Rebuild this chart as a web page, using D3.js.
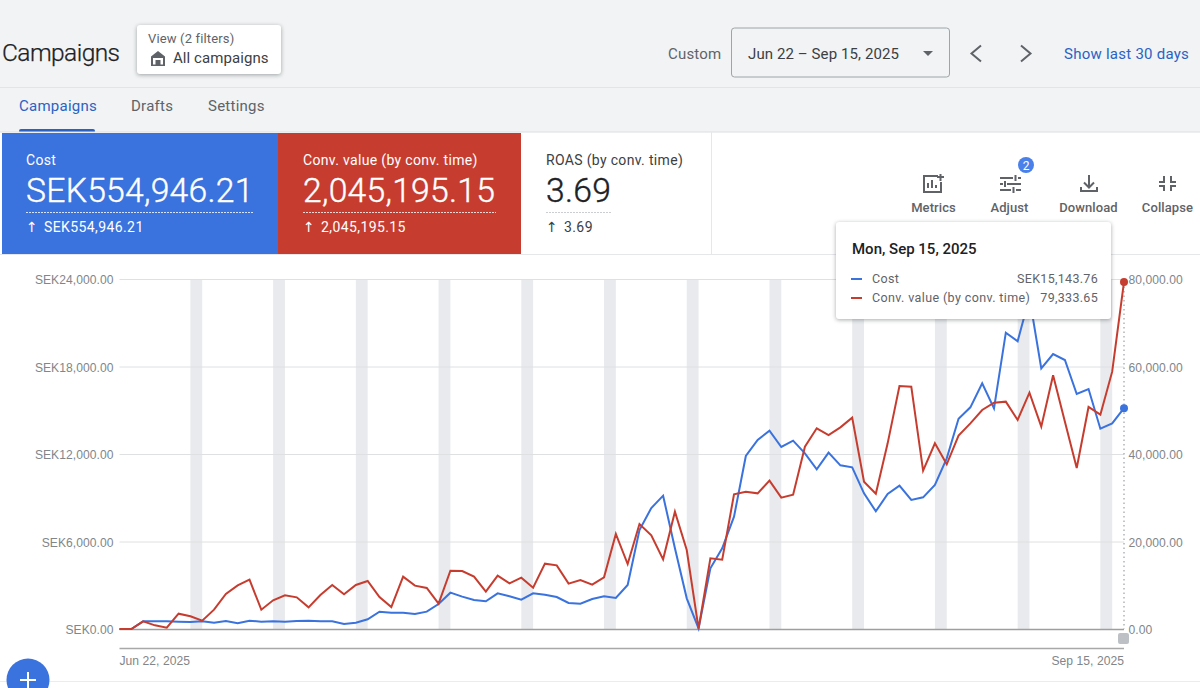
<!DOCTYPE html>
<html>
<head>
<meta charset="utf-8">
<title>Campaigns</title>
<script src="https://cdn.jsdelivr.net/npm/d3@7"></script>
<style>
html, body { margin: 0; padding: 0; background: #f1f3f4; overflow: hidden; }
svg { display: block; font-family: Roboto, "Noto Sans", sans-serif; }
.tick-label text { font-size: 12.1px; letter-spacing: 0.05px; fill: #80868b; }
.card { filter: drop-shadow(0 1px 2px rgba(60, 64, 67, 0.45)); }
</style>
</head>
<body>
<svg id="chart" width="1200" height="688"></svg>
<script>
// daily values
const costValues = [
    0, 0, 526, 526, 526, 503, 480, 526, 434, 549, 389, 571, 503, 526, 503, 549, 571,
    526, 526, 343, 434, 663, 1189, 1120, 1120, 1029, 1189, 1710, 2491, 2217, 1989,
    1897, 2446, 2240, 2011, 2446, 2354, 2194, 1783, 1737, 2057, 2240, 2126, 3017,
    6789, 8297, 9143, 5531, 2103, 40, 4160, 5531, 7703, 11863, 12960, 13600, 12480,
    12914, 12046, 10949, 12091, 11223, 11086, 9303, 8069, 9257, 9829, 8846, 9029,
    9874, 11703, 14423, 15200, 16846, 15131, 20320, 19726, 22743, 17874, 18857,
    18446, 16114, 16457, 13737, 14103, 15143.76
];
const convValues = [
    0, 0, 1752, 838, 305, 3505, 2895, 1905, 4419, 8000, 9981, 11276, 4419, 6552, 7695,
    7238, 4952, 7771, 10057, 7924, 10057, 10971, 7314, 5029, 11962, 9905, 9371, 5790,
    13333, 13257, 11962, 8533, 12190, 10438, 11733, 9448, 14933, 14552, 10362, 11200,
    10133, 11810, 21714, 14857, 24000, 21410, 15924, 26819, 18057, 100, 16152, 15848,
    30781, 31390, 31010, 33905, 30019, 30705, 41676, 45867, 44343, 46095, 48305, 33676,
    30933, 42438, 55543, 55390, 36190, 42438, 37638, 44190, 47010, 50057, 51733, 51962,
    47771, 54019, 46248, 57981, 47390, 36800, 50743, 48990, 58819, 79333.65
];
const costTicks = [0, 6000, 12000, 18000, 24000];
const convTicks = [0, 20000, 40000, 60000, 80000];
const tabLabels = ['Campaigns', 'Drafts', 'Settings'];
const toolLabels = ['Metrics', 'Adjust', 'Download', 'Collapse'];
const tileLabels = ['Cost', 'Conv. value (by conv. time)', 'ROAS (by conv. time)'];
const tileTotals = ['SEK554,946.21', '2,045,195.15', '3.69'];

const startDate = new Date(2025, 5, 22);
const endDate = new Date(2025, 8, 15);
const days = d3.timeDay.range(startDate, d3.timeDay.offset(endDate, 1));

const blue = '#3a72de';
const red = '#c63d2f';
const svg = d3.select('#chart');

const x = d3.scaleTime().domain([startDate, endDate]).range([119.5, 1124]);
const yCost = d3.scaleLinear().domain([0, 24000]).range([629, 279]);
const yConv = d3.scaleLinear().domain([0, 80000]).range([629, 279]);

function label(parent, str, px, py, size, fill, anchor, weight) {
    return parent.append('text')
        .attr('x', px)
        .attr('y', py)
        .attr('font-size', size)
        .attr('fill', fill)
        .attr('text-anchor', anchor || 'start')
        .attr('font-weight', weight || 400)
        .text(str);
}

function drawHeader() {
    const g = svg.append('g');
    label(g, 'Campaigns', 2, 61, 24.5, '#202124', 'start', 300)
        .attr('textLength', 118)
        .attr('stroke', '#202124')
        .attr('stroke-width', 0.25);

    const viewCard = g.append('g');
    viewCard.append('rect')
        .attr('class', 'card')
        .attr('x', 137).attr('y', 25).attr('width', 144).attr('height', 49)
        .attr('rx', 3).attr('fill', '#fff');
    label(viewCard, 'View (2 filters)', 148, 43, 13, '#5f6368').attr('letter-spacing', 0.15);
    label(viewCard, 'All campaigns', 173, 63, 15, '#3c4043').attr('letter-spacing', 0.08);
    viewCard.append('path')
        .attr('d', 'M158 51l-7 5.5V66h14V56.5zM153 58h10v6.500h-2.500V60h-5v4.500H153z')
        .attr('fill', '#5f6368')
        .attr('fill-rule', 'evenodd');

    label(g, 'Custom', 668, 59, 15, '#5f6368').attr('letter-spacing', 0.2);
    g.append('rect')
        .attr('x', 731.5).attr('y', 28).attr('width', 218).attr('height', 49)
        .attr('rx', 3).attr('fill', 'none').attr('stroke', '#a0a4a8');
    label(g, 'Jun 22 – Sep 15, 2025', 748, 59, 15, '#3c4043').attr('letter-spacing', 0.1);
    g.append('path').attr('d', 'M923 51h10l-5 5z').attr('fill', '#5f6368');
    g.append('path')
        .attr('d', 'M981 45.500l-9.500 8 9.500 8M1021 45.500l9.500 8-9.500 8')
        .attr('fill', 'none').attr('stroke', '#5f6368').attr('stroke-width', 2);
    label(g, 'Show last 30 days', 1064, 59, 15, '#2a62c4').attr('letter-spacing', 0.25);

    g.append('line')
        .attr('x1', 0).attr('x2', 1200).attr('y1', 87.500).attr('y2', 87.500)
        .attr('stroke', '#e2e4e6');

    g.selectAll('.tab')
        .data(tabLabels)
        .enter()
        .append('text')
        .attr('class', 'tab')
        .attr('x', function(d, i) { return [19, 131, 208][i]; })
        .attr('y', 111)
        .attr('font-size', 15)
        .attr('letter-spacing', 0.25)
        .attr('fill', function(d, i) { return i === 0 ? '#2a62c4' : '#5f6368'; })
        .text(function(d) { return d; });
    g.append('rect')
        .attr('x', 19).attr('y', 129).attr('width', 76).attr('height', 4)
        .attr('rx', 2).attr('fill', '#2a62c4');
}

function drawTiles() {
    const g = svg.append('g');
    g.append('rect')
        .attr('x', 0).attr('y', 132).attr('width', 1200).attr('height', 556)
        .attr('fill', '#fff');
    g.append('line')
        .attr('x1', 0).attr('x2', 1200).attr('y1', 132).attr('y2', 132)
        .attr('stroke', '#dcdee0');
    g.append('line')
        .attr('x1', 0).attr('x2', 1200).attr('y1', 254.500).attr('y2', 254.500)
        .attr('stroke', '#e6e7e9');
    g.append('line')
        .attr('x1', 711.500).attr('x2', 711.500).attr('y1', 132).attr('y2', 254)
        .attr('stroke', '#e6e7e9');

    const tiles = [
        {x: 2, w: 276, bg: blue, text: '#fff', left: 26, dash: 228},
        {x: 278, w: 243, bg: red, text: '#fff', left: 303, dash: 193},
        {x: 521, w: 190, bg: '#fff', text: '#202124', left: 546, dash: 66}
    ];
    tiles.forEach(function(t, i) {
        const tile = g.append('g');
        const soft = i === 2 ? '#3c4043' : t.text;
        tile.append('rect')
            .attr('x', t.x).attr('y', 133).attr('width', t.w).attr('height', 121)
            .attr('fill', t.bg);
        label(tile, tileLabels[i], t.left, 165, 14, soft).attr('letter-spacing', 0.33);
        label(tile, tileTotals[i], t.left, 202, 33.700, t.text, 'start', 300)
            .attr('letter-spacing', 0.25)
            .attr('stroke', t.text)
            .attr('stroke-width', 0.4);
        tile.append('line')
            .attr('x1', t.left).attr('x2', t.left + t.dash)
            .attr('y1', 212.500).attr('y2', 212.500)
            .attr('stroke', i === 2 ? '#bdc1c6' : '#fff')
            .attr('stroke-opacity', 0.8)
            .attr('stroke-dasharray', '2 1');
        label(tile, '↑', t.left, 232, 14, soft).attr('font-family', 'DejaVu Sans');
        label(tile, tileTotals[i], t.left + 18, 232, 14, soft).attr('letter-spacing', 0.4);
    });
}

function drawTools() {
    const g = svg.append('g');
    const iconColor = '#5f6368';
    g.selectAll('.tool')
        .data(toolLabels)
        .enter()
        .append('text')
        .attr('class', 'tool')
        .attr('x', function(d, i) { return [933.500, 1009.500, 1088.500, 1167.500][i]; })
        .attr('y', 212)
        .attr('text-anchor', 'middle')
        .attr('font-size', 13)
        .attr('font-weight', 500)
        .attr('letter-spacing', 0.1)
        .attr('fill', iconColor)
        .text(function(d) { return d; });

    // metrics, adjust, download, collapse
    g.append('path')
        .attr('d', 'M938 176h-14v16h17v-10M928 188v-5M932 188v-8M936 188v-3M937 177h7M940.500 174v7')
        .attr('fill', 'none').attr('stroke', iconColor).attr('stroke-width', 2);
    g.append('path')
        .attr('d', 'M1000 178h13M1018 178h3M1015.500 175v6M1000 184h3M1007 184h14M1005 181v6M1000 190h11M1016 190h5M1013.500 187v6')
        .attr('fill', 'none').attr('stroke', iconColor).attr('stroke-width', 2);
    g.append('path')
        .attr('d', 'M1089 175v12M1084 182.500l5 5 5-5M1081 187v4h16v-4')
        .attr('fill', 'none').attr('stroke', iconColor).attr('stroke-width', 2);
    g.append('path')
        .attr('d', 'M1164 176v6h-5M1171 176v6h5M1164 191v-5h-5M1171 191v-5h5')
        .attr('fill', 'none').attr('stroke', iconColor).attr('stroke-width', 2);

    g.append('circle')
        .attr('cx', 1026).attr('cy', 165).attr('r', 8).attr('fill', '#4a80ea');
    label(g, '2', 1026, 169.500, 12, '#fff', 'middle');
}

function drawPlot() {
    const g = svg.append('g');
    const saturdays = days.filter(function(d) { return d.getDay() === 6; });

    g.selectAll('.weekend')
        .data(saturdays)
        .enter()
        .append('rect')
        .attr('class', 'weekend')
        .attr('x', function(d) { return x(d); })
        .attr('width', function(d) { return x(d3.timeDay.offset(d, 1)) - x(d); })
        .attr('y', yCost(24000))
        .attr('height', yCost(0) - yCost(24000))
        .attr('fill', '#e8eaed');

    g.selectAll('.grid')
        .data(costTicks)
        .enter()
        .append('line')
        .attr('class', 'grid')
        .attr('x1', x.range()[0])
        .attr('x2', x.range()[1])
        .attr('y1', function(d) { return yCost(d) + 0.5; })
        .attr('y2', function(d) { return yCost(d) + 0.5; })
        .attr('stroke', function(d) { return d === 0 ? '#9e9e9e' : '#dfe0e2'; })
        .attr('stroke-width', function(d) { return d === 0 ? 1.5 : 1; });

    const leftAxis = d3.axisLeft(yCost)
        .tickValues(costTicks)
        .tickSize(0)
        .tickPadding(6)
        .tickFormat(function(d) { return 'SEK' + d3.format(',.2f')(d); });
    const rightAxis = d3.axisRight(yConv)
        .tickValues(convTicks)
        .tickSize(0)
        .tickPadding(4)
        .tickFormat(d3.format(',.2f'));
    const timeAxis = d3.axisBottom(x)
        .tickValues([startDate, endDate])
        .tickSize(0)
        .tickPadding(8)
        .tickFormat(d3.timeFormat('%b %-d, %Y'));

    g.append('g').attr('class', 'tick-label')
        .attr('transform', 'translate(119.5,0.7)')
        .call(leftAxis)
        .call(function(a) { a.select('.domain').remove(); });
    g.append('g').attr('class', 'tick-label')
        .attr('transform', 'translate(1124.5,0.7)')
        .call(rightAxis)
        .call(function(a) { a.select('.domain').remove(); });
    const bottom = g.append('g').attr('class', 'tick-label')
        .attr('transform', 'translate(-0.5,648)')
        .call(timeAxis);
    bottom.select('.domain')
        .attr('stroke', '#a8a8a8')
        .attr('stroke-width', 1.5);
    bottom.selectAll('text')
        .attr('text-anchor', function(d, i) { return i === 0 ? 'start' : 'end'; });

    g.append('line')
        .attr('x1', x(endDate)).attr('x2', x(endDate))
        .attr('y1', yConv(79333.65)).attr('y2', yCost(0))
        .attr('stroke', '#9aa0a6')
        .attr('stroke-width', 1.2)
        .attr('stroke-dasharray', '1.500 3');

    const costLine = d3.line()
        .x(function(d, i) { return x(days[i]); })
        .y(function(d) { return yCost(d); });
    const convLine = d3.line()
        .x(function(d, i) { return x(days[i]); })
        .y(function(d) { return yConv(d); });

    g.append('path').datum(costValues)
        .attr('d', costLine)
        .attr('fill', 'none').attr('stroke', blue).attr('stroke-width', 2);
    g.append('path').datum(convValues)
        .attr('d', convLine)
        .attr('fill', 'none').attr('stroke', red).attr('stroke-width', 2);

    g.append('circle')
        .attr('cx', x(endDate)).attr('cy', yCost(costValues[costValues.length - 1]))
        .attr('r', 4).attr('fill', blue);
    g.append('circle')
        .attr('cx', x(endDate)).attr('cy', yConv(convValues[convValues.length - 1]))
        .attr('r', 4).attr('fill', red);

    // range handle under the plot
    g.append('rect')
        .attr('x', 1118).attr('y', 633).attr('width', 11).attr('height', 11)
        .attr('rx', 2).attr('fill', '#bdc1c6');
}

function drawTooltip() {
    const g = svg.append('g');
    g.append('rect')
        .attr('class', 'card')
        .attr('x', 836).attr('y', 222).attr('width', 275).attr('height', 97)
        .attr('rx', 3).attr('fill', '#fff');
    label(g, 'Mon, Sep 15, 2025', 852, 254, 15, '#202124', 'start', 500);

    const rows = [
        {name: 'Cost', value: 'SEK15,143.76', color: blue, y: 283},
        {name: 'Conv. value (by conv. time)', value: '79,333.65', color: red, y: 302}
    ];
    rows.forEach(function(r) {
        g.append('line')
            .attr('x1', 851).attr('x2', 862)
            .attr('y1', r.y - 4).attr('y2', r.y - 4)
            .attr('stroke', r.color).attr('stroke-width', 2);
        label(g, r.name, 872, r.y, 12.500, '#5f6368').attr('letter-spacing', 0.38);
        label(g, r.value, 1098, r.y, 12.500, '#5f6368', 'end').attr('letter-spacing', 0.3);
    });
}

function drawFooter() {
    const g = svg.append('g');
    g.append('line')
        .attr('x1', 0).attr('x2', 1200).attr('y1', 681.500).attr('y2', 681.500)
        .attr('stroke', '#ececee');
    g.append('circle')
        .attr('cx', 28).attr('cy', 680).attr('r', 21.500).attr('fill', blue);
    g.append('path')
        .attr('d', 'M28 672v16M20 680h16')
        .attr('stroke', '#fff').attr('stroke-width', 2);
}

drawHeader();
drawTiles();
drawTools();
drawPlot();
drawFooter();
drawTooltip();
</script>
</body>
</html>
